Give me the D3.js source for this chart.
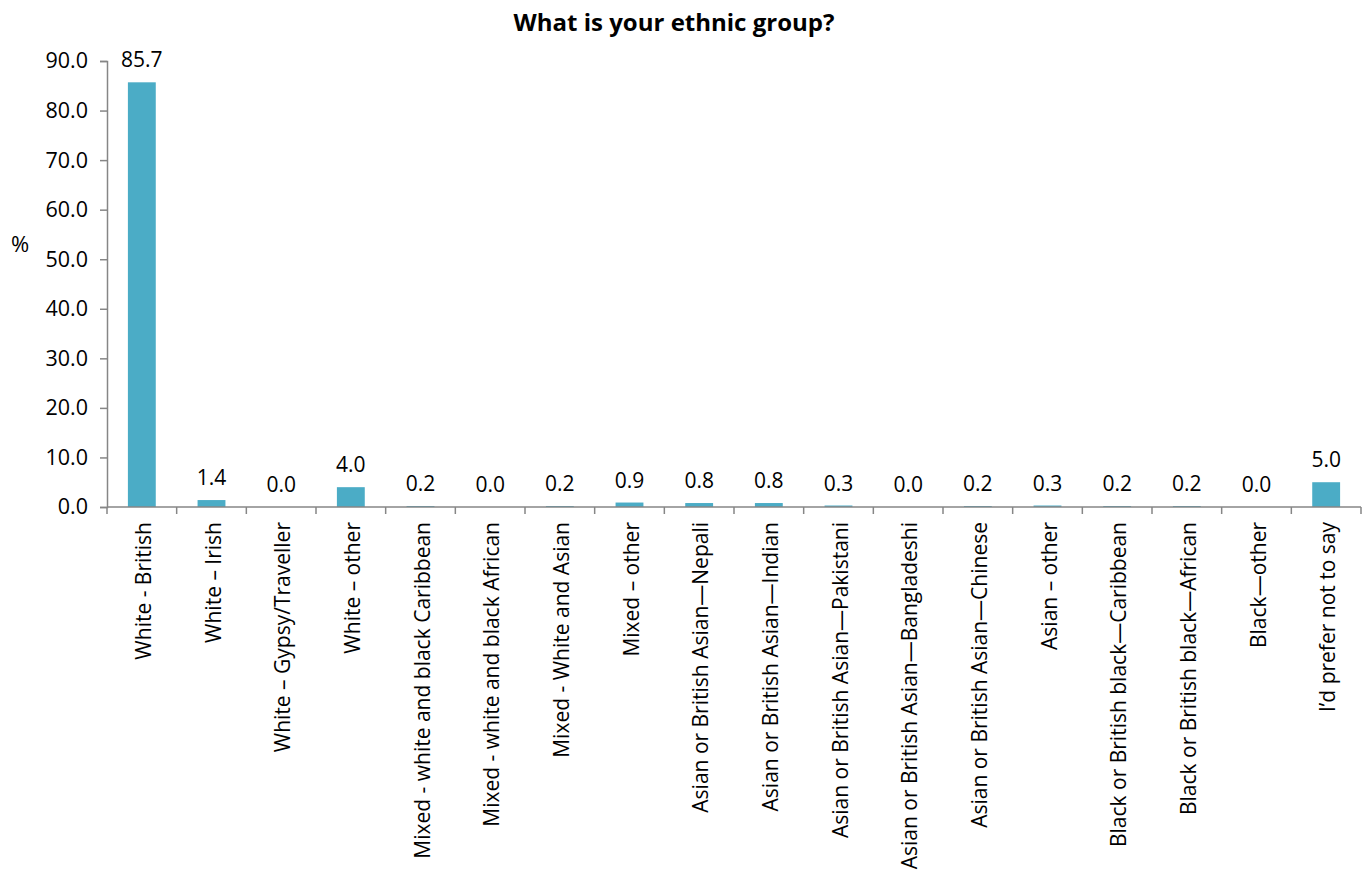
<!DOCTYPE html>
<html><head><meta charset="utf-8">
<script src="https://cdn.jsdelivr.net/npm/d3@7"></script>
<style>body{margin:0;background:#fff}svg{display:block}text{font-family:"Open Sans","Noto Sans",sans-serif}</style>
</head><body><svg id="c" width="1368" height="876"></svg>
<script>
const categories = ["White - British","White \u2013 Irish","White \u2013 Gypsy/Traveller","White \u2013 other","Mixed - white and black Caribbean","Mixed - white and black African","Mixed - White and Asian","Mixed \u2013 other","Asian or British Asian\u2014Nepali","Asian or British Asian\u2014Indian","Asian or British Asian\u2014Pakistani","Asian or British Asian\u2014Bangladeshi","Asian or British Asian\u2014Chinese","Asian \u2013 other","Black or British black\u2014Caribbean","Black or British black\u2014African","Black\u2014other","I\u2019d prefer not to say"];
const values = [85.7,1.4,0.0,4.0,0.2,0.0,0.2,0.9,0.8,0.8,0.3,0.0,0.2,0.3,0.2,0.2,0.0,5.0];
const yTicks = [0,10,20,30,40,50,60,70,80,90];
const title = "What is your ethnic group?";
const yLabel = "%";

(function () {
const svg = d3.select("#c");
const mLeft = 107, mRight = 1361, mTop = 61, mBottom = 507;
const x = d3.scaleBand().domain(categories).range([mLeft, mRight]).paddingInner(0.6).paddingOuter(0.3);
const y = d3.scaleLinear().domain([0, 90]).range([mBottom, mTop]);
const axisColor = "#868686";

svg.append("text").attr("x", 674).attr("y", 31).attr("text-anchor", "middle")
  .attr("font-size", 24).attr("font-weight", "bold").attr("fill", "#000").text(title);
svg.append("text").attr("x", 20).attr("y", 252).attr("text-anchor", "middle")
  .attr("font-size", 22).attr("fill", "#000").text(yLabel);

const ya = svg.append("g").attr("transform", `translate(${mLeft},0)`)
  .call(d3.axisLeft(y).tickValues(yTicks).tickFormat(d3.format(".1f")).tickSizeOuter(0).tickSize(7).tickPadding(12));
ya.select(".domain").attr("stroke", axisColor).attr("stroke-width", 1.5);
ya.selectAll(".tick line").attr("stroke", axisColor).attr("stroke-width", 1.5);
ya.selectAll(".tick text").attr("font-size", 21.5).attr("fill", "#000").attr("font-family", '"Open Sans",sans-serif');

svg.append("g").selectAll("rect").data(values).join("rect")
  .attr("x", (d, i) => x(categories[i])).attr("width", x.bandwidth())
  .attr("y", d => y(d)).attr("height", d => mBottom - y(d)).attr("fill", "#4BACC6");

svg.append("g").selectAll("text").data(values).join("text")
  .attr("x", (d, i) => x(categories[i]) + x.bandwidth() / 2).attr("y", d => y(d) - 15)
  .attr("text-anchor", "middle").attr("font-size", 21).attr("fill", "#000")
  .text(d => d3.format(".1f")(d));

const bounds = d3.range(categories.length + 1).map(i => mLeft + i * (mRight - mLeft) / categories.length);
const xa = svg.append("g");
xa.append("line").attr("x1", mLeft).attr("x2", mRight).attr("y1", mBottom).attr("y2", mBottom)
  .attr("stroke", axisColor).attr("stroke-width", 1.5);
xa.selectAll("line.t").data(bounds).join("line").attr("class", "t")
  .attr("x1", d => d).attr("x2", d => d).attr("y1", mBottom).attr("y2", mBottom + 7)
  .attr("stroke", axisColor).attr("stroke-width", 1.5);

svg.append("g").selectAll("text").data(categories).join("text")
  .attr("transform", d => `translate(${x(d) + x.bandwidth() / 2 + 9},${mBottom + 15}) rotate(-90)`)
  .attr("text-anchor", "end").attr("font-size", 21).attr("fill", "#000").text(d => d);
})();
</script></body></html>
